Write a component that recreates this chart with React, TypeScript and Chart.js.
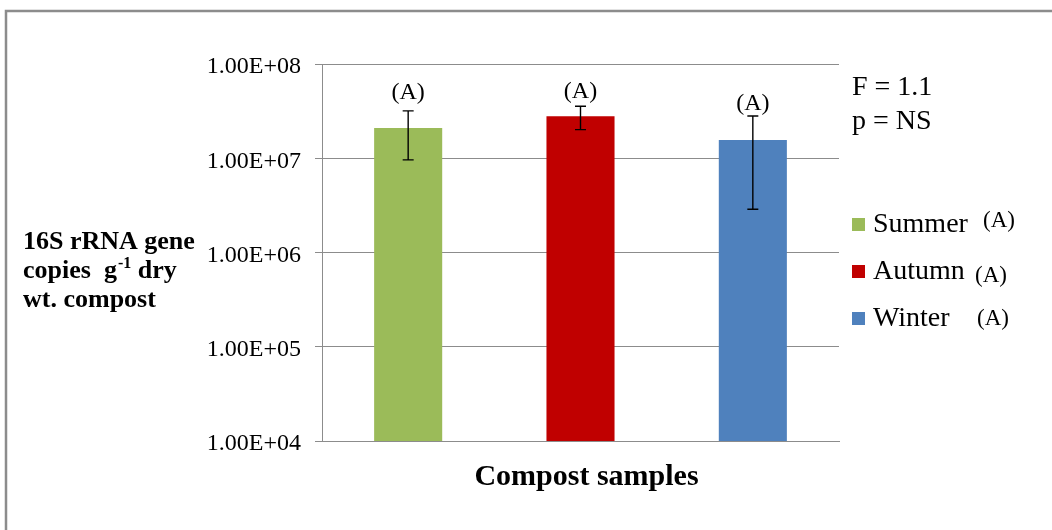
import React, { useEffect, useRef } from "react";
import { Chart, registerables } from "chart.js";

Chart.register(...registerables);

const categories = ["Summer", "Autumn", "Winter"];
const meanValues = [2.09e7, 2.79e7, 1.56e7];
const errLow = [9.6e6, 2.01e7, 2.88e6];
const errHigh = [3.18e7, 3.56e7, 2.81e7];
const barLetters = ["(A)", "(A)", "(A)"];
const letterAt = [4.27e7, 4.37e7, 3.23e7];
const legendLetters = ["(A)", "(A)", "(A)"];
const barColors = ["#9BBB59", "#C00000", "#4F81BD"];
const yTicks = [1e4, 1e5, 1e6, 1e7, 1e8];
const yTickLabels = ["1.00E+04", "1.00E+05", "1.00E+06", "1.00E+07", "1.00E+08"];
const statLines = ["F = 1.1", "p = NS"];
const xTitle = "Compost samples";

const SERIF = "'Liberation Serif', 'Times New Roman', serif";
const GRID = "#8c8c8c";

const overlay = {
  id: "overlay",
  afterDatasetsDraw(chart: any) {
    const ctx = chart.ctx;
    const y = chart.scales.y;
    const meta = chart.getDatasetMeta(0);
    ctx.save();
    meta.data.forEach((bar: any, i: number) => {
      const x = bar.x;
      const yt = y.getPixelForValue(errHigh[i]);
      const yb = y.getPixelForValue(errLow[i]);
      ctx.strokeStyle = "#000";
      ctx.lineWidth = 1.4;
      ctx.beginPath();
      ctx.moveTo(x, yt);
      ctx.lineTo(x, yb);
      ctx.moveTo(x - 5.5, yt);
      ctx.lineTo(x + 5.5, yt);
      ctx.moveTo(x - 5.5, yb);
      ctx.lineTo(x + 5.5, yb);
      ctx.stroke();
      ctx.fillStyle = "#000";
      ctx.font = `24px ${SERIF}`;
      ctx.textAlign = "center";
      ctx.textBaseline = "alphabetic";
      ctx.fillText(barLetters[i], x, y.getPixelForValue(letterAt[i]));
    });
    ctx.restore();
  },
  afterDraw(chart: any) {
    const ctx = chart.ctx;
    ctx.save();
    // outer frame
    ctx.strokeStyle = GRID;
    ctx.lineWidth = 2.5;
    ctx.strokeRect(6, 11, 1100, 600);

    ctx.fillStyle = "#000";
    ctx.textBaseline = "alphabetic";
    // y title
    ctx.textAlign = "left";
    ctx.font = `bold 26px ${SERIF}`;
    ctx.fillText("16S rRNA gene", 23, 249);
    let x = 23;
    const t1 = "copies  g";
    ctx.fillText(t1, x, 278);
    x += ctx.measureText(t1).width + 1;
    ctx.font = `bold 16px ${SERIF}`;
    ctx.fillText("-1", x, 268);
    x += ctx.measureText("-1").width;
    ctx.font = `bold 26px ${SERIF}`;
    ctx.fillText(" dry", x, 278);
    ctx.fillText("wt. compost", 23, 307);

    // x title
    const area = chart.chartArea;
    ctx.textAlign = "center";
    ctx.font = `bold 30px ${SERIF}`;
    ctx.fillText(xTitle, (area.left + area.right) / 2 + 6, 485);

    // stats
    ctx.textAlign = "left";
    ctx.font = `28px ${SERIF}`;
    statLines.forEach((s, i) => ctx.fillText(s, 852, 95 + i * 34));

    // legend
    const legendLetterX = [983, 975, 977];
    const legendLetterDy = [-5, 3, -1];
    categories.forEach((c, i) => {
      const base = 232 + i * 47;
      ctx.fillStyle = barColors[i];
      ctx.fillRect(852, base - 14, 13, 13);
      ctx.fillStyle = "#000";
      ctx.font = `28px ${SERIF}`;
      ctx.fillText(c, 873, base);
      ctx.font = `23px ${SERIF}`;
      ctx.fillText(legendLetters[i], legendLetterX[i], base + legendLetterDy[i]);
    });
    ctx.restore();
  },
};

export default function App() {
  const ref = useRef<HTMLCanvasElement>(null);
  useEffect(() => {
    if (!ref.current) return;
    const chart = new Chart(ref.current, {
      type: "bar",
      data: {
        labels: categories,
        datasets: [
          {
            data: meanValues,
            backgroundColor: barColors,
            borderWidth: 0,
            categoryPercentage: 1,
            barPercentage: 0.395,
          },
        ],
      },
      options: {
        responsive: false,
        animation: false,
        layout: { padding: { top: 64, right: 213, bottom: 89, left: 0 } },
        plugins: { legend: { display: false }, tooltip: { enabled: false } },
        scales: {
          x: {
            grid: { display: false },
            ticks: { display: false },
            border: { color: GRID, width: 1 },
            afterFit: (s: any) => {
              s.height = 0;
            },
          },
          y: {
            type: "logarithmic",
            min: 1e4,
            max: 1e8,
            afterBuildTicks: (s: any) => {
              s.ticks = yTicks.map((v) => ({ value: v }));
            },
            afterFit: (s: any) => {
              s.width = 322;
            },
            ticks: {
              callback: (_v: any, i: number) => yTickLabels[i],
              font: { family: SERIF, size: 24 },
              color: "#000",
              padding: 14,
              labelOffset: 3,
            },
            grid: { color: GRID, lineWidth: 1, tickLength: 7 },
            border: { color: GRID, width: 1 },
          },
        },
      },
      plugins: [overlay],
    } as any);
    return () => chart.destroy();
  }, []);
  return (
    <div style={{ position: "fixed", left: 0, top: 0, width: 1052, height: 530, background: "#fff" }}>
      <canvas ref={ref} width={1052} height={530} style={{ display: "block" }} />
    </div>
  );
}
